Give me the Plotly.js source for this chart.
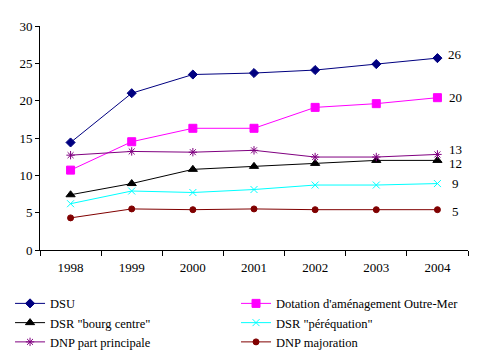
<!DOCTYPE html>
<html><head><meta charset="utf-8">
<script src="https://cdn.plot.ly/plotly-3.0.1.min.js"></script>
<style>html,body{margin:0;padding:0;background:#fff}#chart{width:483px;height:363px}</style>
</head><body><div id="chart"></div>
<script>
var years = ['1998','1999','2000','2001','2002','2003','2004'];
var seriesNames = ['DSU', "Dotation d'aménagement Outre-Mer", 'DSR "bourg centre"', 'DSR "péréquation"', 'DNP part principale', 'DNP majoration'];
var dsu       = [14.4, 21.0, 23.5, 23.7, 24.1, 24.9, 25.7];
var dotation  = [10.7, 14.5, 16.3, 16.3, 19.1, 19.6, 20.4];
var dsrBourg  = [7.4, 8.9, 10.8, 11.2, 11.6, 12.0, 12.0];
var dsrPereq  = [6.2, 7.9, 7.7, 8.1, 8.7, 8.7, 8.9];
var dnpPart   = [12.7, 13.2, 13.1, 13.35, 12.45, 12.45, 12.8];
var dnpMaj    = [4.3, 5.5, 5.4, 5.5, 5.4, 5.4, 5.4];
var endLabels = ['26', '20', '12', '9', '13', '5'];
var yTicks = [0, 5, 10, 15, 20, 25, 30];

var allSeries = [dsu, dotation, dsrBourg, dsrPereq, dnpPart, dnpMaj];
var colors = ['#000080', '#FF00FF', '#000000', '#00FFFF', '#800080', '#800000'];
var symbols = ['diamond', 'square', 'triangle-up', 'x-thin-open', 'asterisk-open', 'circle'];
var msizes = [7, 8, 8, 7, 7, 6];
var legendOf = ['legend', 'legend2', 'legend', 'legend2', 'legend', 'legend2'];
var labelShift = [4, 0, -3, 0, 5, -2];
var FONT = '"Liberation Serif", "Times New Roman", serif';

var traces = allSeries.map(function (vals, i) {
  return {
    type: 'scatter', mode: 'lines+markers', name: seriesNames[i], legend: legendOf[i],
    x: years, y: vals, cliponaxis: false,
    line: {color: colors[i], width: 1},
    marker: {symbol: symbols[i], size: msizes[i], color: colors[i], line: {color: colors[i], width: 1}}
  };
});

var annotations = allSeries.map(function (vals, i) {
  return {
    x: years.length - 1, y: vals[vals.length - 1], xref: 'x', yref: 'y',
    text: endLabels[i], showarrow: false, xanchor: 'center', yanchor: 'middle',
    xshift: 18, yshift: labelShift[i], borderpad: 0,
    font: {family: FONT, size: 13, color: '#000000'}
  };
});

var legendStyle = {font: {family: FONT, size: 12.5}, bgcolor: 'rgba(0,0,0,0)', itemwidth: 30,
  orientation: 'v', xanchor: 'left', yanchor: 'top', y: -0.173, tracegroupgap: 0};

var layout = {
  width: 483, height: 363,
  margin: {l: 39.5, r: 15, t: 26, b: 113, pad: 0, autoexpand: false},
  paper_bgcolor: '#fff', plot_bgcolor: '#fff',
  font: {family: FONT, size: 13, color: '#000'},
  showlegend: true,
  xaxis: {
    type: 'category', showgrid: false, zeroline: false,
    showline: true, linecolor: '#000', linewidth: 1,
    ticks: 'outside', ticklen: 5, tickcolor: '#000', tickson: 'boundaries',
    ticklabelstandoff: 5,
    tickfont: {family: FONT, size: 13}, range: [-0.5, 6.5]
  },
  yaxis: {
    range: [0, 30], tickvals: yTicks, showgrid: false, zeroline: false,
    showline: true, linecolor: '#000', linewidth: 1,
    ticks: 'outside', ticklen: 4, tickcolor: '#000',
    tickfont: {family: FONT, size: 13}
  },
  legend: Object.assign({}, legendStyle, {x: -0.07}),
  legend2: Object.assign({}, legendStyle, {x: 0.458}),
  annotations: annotations
};

Plotly.newPlot('chart', traces, layout, {displayModeBar: false, staticPlot: true});
</script></body></html>
